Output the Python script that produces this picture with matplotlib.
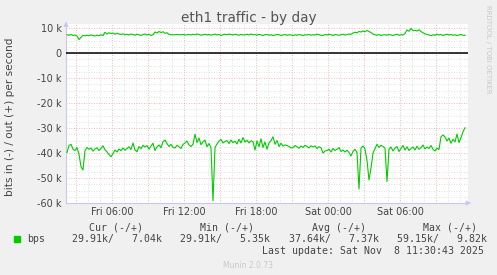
import numpy as np
import pandas as pd
import matplotlib
matplotlib.use("Agg")
import matplotlib.pyplot as plt
import matplotlib.dates as mdates
from matplotlib.ticker import MultipleLocator, FuncFormatter

# ── Data (kbit/s, 10 minute samples) ──────────────────────────────────────

START = "2025-11-07 02:15"

bits_in = [
    39.8, 37.0, 36.5, 38.5, 39.0, 37.8, 40.5, 45.5, 46.8, 39.0,
    37.8, 38.5, 38.0, 39.2, 38.4, 37.9, 39.0, 38.2, 37.1, 38.8,
    39.5, 40.6, 41.5, 40.2, 38.8, 39.6, 38.4, 39.1, 38.0, 38.9,
    38.2, 37.5, 38.6, 36.0, 38.8, 39.5, 37.4, 38.3, 36.9, 37.6,
    37.0, 38.5, 37.2, 36.1, 39.0, 37.5, 36.8, 37.9, 35.5, 34.8,
    36.2, 37.4, 36.5, 37.8, 38.0, 36.9, 37.5, 38.2, 36.6, 36.0,
    35.2, 36.8, 37.4, 36.5, 32.5, 35.8, 34.0, 36.7, 35.5, 34.8,
    37.5, 36.2, 38.0, 59.15, 37.8, 36.4, 35.2, 34.6, 36.0, 35.4,
    35.0, 36.2, 34.8, 35.9, 35.3, 36.4, 34.5, 36.0, 33.8, 35.6,
    34.9, 36.0, 35.1, 35.5, 38.8, 35.2, 37.5, 34.3, 37.8, 35.6,
    38.5, 36.0, 35.1, 33.5, 36.5, 35.0, 37.4, 36.1, 37.2, 36.8,
    37.0, 37.4, 38.0, 37.9, 37.0, 37.5, 38.1, 37.2, 37.8, 36.9,
    37.4, 38.0, 37.1, 37.6, 37.2, 38.2, 37.5, 37.9, 40.0, 39.2,
    39.0, 38.5, 39.6, 38.2, 39.0, 38.5, 37.8, 39.4, 38.8, 39.6,
    38.9, 39.8, 41.2, 39.4, 38.5, 39.8, 54.4, 38.0, 37.2, 38.4,
    43.0, 50.8, 46.0, 40.0, 38.2, 36.5, 37.8, 36.9, 37.4, 38.0,
    51.4, 38.5, 37.6, 39.2, 38.0, 37.4, 39.4, 38.1, 37.0, 38.8,
    37.5, 39.0, 38.2, 37.6, 38.8, 37.3, 38.5, 37.9, 36.8, 38.4,
    37.6, 38.2, 37.0, 38.5, 39.2, 38.0, 38.6, 33.5, 32.8, 33.6,
    35.2, 34.0, 36.1, 34.5, 35.6, 32.4, 35.8, 33.9, 31.5, 29.91,
]

bits_out = [
    7.3, 7.1, 7.4, 7.0, 7.2, 6.8, 5.35, 6.3, 7.0, 6.9,
    7.1, 6.9, 7.2, 7.0, 6.8, 7.1, 6.9, 7.3, 7.0, 8.3,
    7.6, 8.1, 7.8, 8.0, 7.5, 7.9, 7.6, 7.4, 7.7, 7.3,
    7.5, 7.2, 7.6, 7.4, 7.1, 7.5, 7.3, 7.0, 7.4, 7.6,
    7.2, 7.5, 7.0, 7.3, 8.4, 8.0, 8.6, 8.2, 8.5, 7.9,
    8.1, 7.4, 7.3, 7.3, 7.3, 7.4, 7.3, 7.3, 7.4, 7.2,
    7.3, 7.4, 7.2, 7.5, 7.3, 7.6, 7.4, 7.1, 7.3, 7.5,
    7.2, 7.4, 7.1, 7.3, 7.6, 7.2, 7.4, 7.0, 7.3, 7.5,
    7.3, 7.6, 7.4, 7.2, 7.5, 7.3, 7.1, 7.4, 7.2, 7.3,
    7.5, 7.2, 7.6, 7.3, 7.4, 7.1, 7.5, 7.2, 7.0, 7.3,
    7.4, 7.1, 7.3, 7.0, 7.2, 7.4, 7.3, 7.0, 7.2, 7.4,
    7.1, 7.3, 7.2, 7.0, 7.3, 7.1, 7.4, 7.2, 7.0, 7.3,
    7.2, 7.4, 7.1, 7.3, 7.2, 7.5, 7.3, 7.1, 7.0, 7.4,
    7.2, 7.5, 7.3, 7.0, 7.4, 7.2, 7.1, 7.3, 7.5, 7.2,
    7.4, 7.6, 7.5, 8.0, 8.3, 8.1, 8.6, 8.4, 8.8, 8.5,
    9.0, 8.6, 8.2, 7.6, 7.3, 7.1, 7.4, 7.0, 7.2, 7.3,
    7.1, 7.4, 7.2, 7.0, 7.3, 7.5, 7.1, 7.3, 7.2, 7.8,
    9.2, 8.7, 9.82, 8.9, 9.1, 8.8, 9.3, 8.6, 8.1, 7.7,
    7.4, 7.2, 6.9, 7.3, 7.1, 7.5, 7.2, 7.4, 7.0, 7.3,
    7.5, 7.2, 7.4, 7.1, 7.3, 7.0, 7.2, 7.4, 7.1, 7.04,
]

legend_cols = ["Cur (-/+)", "Min (-/+)", "Avg (-/+)", "Max (-/+)"]
legend_vals = ["29.91k/   7.04k", "29.91k/   5.35k", "37.64k/   7.37k", "59.15k/   9.82k"]

# ── Figure ────────────────────────────────────────────────────────────────

W, H = 497, 275
BG = "#F0F0F0"
TXT = "#444444"
GREEN = "#00CC00"


def px(x, y):
    return x / W, 1 - y / H


times = pd.date_range(START, periods=len(bits_in), freq="10min")
inbound = -np.array(bits_in) * 1000
outbound = np.array(bits_out) * 1000

fig = plt.figure(figsize=(W / 100, H / 100), dpi=100, facecolor=BG)
x0, y0 = px(66, 203)
x1, y1 = px(468, 24)
ax = fig.add_axes([x0, y0, x1 - x0, y1 - y0], facecolor="white")

ax.plot(times, inbound, color=GREEN, lw=0.8, zorder=3)
ax.plot(times, outbound, color=GREEN, lw=0.8, zorder=3)
ax.axhline(0, color="black", lw=1.1, zorder=4)

ax.set_xlim(pd.Timestamp("2025-11-07 02:10"), pd.Timestamp("2025-11-08 11:40"))
ax.set_ylim(-60000, 11600)

# grid: red major, grey minor
ax.xaxis.set_major_locator(mdates.HourLocator(byhour=range(0, 24, 3)))
ax.xaxis.set_minor_locator(mdates.HourLocator())
ax.xaxis.set_major_formatter(FuncFormatter(
    lambda v, p: mdates.num2date(v).strftime("%a %H:%M") if mdates.num2date(v).hour % 6 == 0 else ""))
ax.yaxis.set_major_locator(MultipleLocator(10000))
ax.yaxis.set_minor_locator(MultipleLocator(2500))
ax.yaxis.set_major_formatter(FuncFormatter(
    lambda v, p: "0" if v == 0 else f"{int(v / 1000)} k"))

ax.grid(which="minor", color="#D8D8D8", lw=0.6, ls=(0, (1, 2)))
ax.grid(which="major", color="#F0A0A0", lw=0.6, ls=(0, (1, 2)))
ax.set_axisbelow(True)
ax.tick_params(which="both", length=0, labelsize=7, colors=TXT, pad=3)

for s in ["top", "right"]:
    ax.spines[s].set_visible(False)
for s in ["left", "bottom"]:
    ax.spines[s].set_color("#C8C8F0")
    ax.spines[s].set_linewidth(0.8)
ax.annotate("", xy=(0, 1.03), xytext=(0, 0.98), xycoords="axes fraction",
            arrowprops=dict(arrowstyle="-|>", color="#C8C8F0", lw=0.8, mutation_scale=7),
            annotation_clip=False)
ax.annotate("", xy=(1.015, 0), xytext=(0.99, 0), xycoords="axes fraction",
            arrowprops=dict(arrowstyle="-|>", color="#C8C8F0", lw=0.8, mutation_scale=7),
            annotation_clip=False)

# ── Texts ─────────────────────────────────────────────────────────────────

fig.text(*px(249, 18), "eth1 traffic - by day", ha="center", va="center",
         fontsize=9.8, color="#555555")
fig.text(*px(10, 117), "bits in (-) / out (+) per second", rotation=90,
         ha="center", va="center", fontsize=7.6, color=TXT)
fig.text(*px(488, 5), "RRDTOOL / TOBI OETIKER", rotation=270, ha="center",
         va="top", fontsize=5, color="#C8C8C8")

mono = dict(family="DejaVu Sans Mono", fontsize=7.1, color=TXT, va="center")
for xp, label in zip([89, 200, 312, 423], legend_cols):
    fig.text(*px(xp, 228), label, **mono)
for xp, val in zip([72, 180, 289, 397], legend_vals):
    fig.text(*px(xp, 239), val, **mono)
fig.text(*px(27, 239), "bps", **mono)
fig.patches.append(plt.Rectangle(px(14, 242), 6 / W, 6 / H, transform=fig.transFigure,
                                 color=GREEN, figure=fig))
fig.text(*px(262, 251), "Last update: Sat Nov  8 11:30:43 2025", **mono)
fig.text(*px(248, 265), "Munin 2.0.73", ha="center", va="center",
         fontsize=5.5, color="#C8C8C8")

fig.savefig("out.png", dpi=100, facecolor=BG)
